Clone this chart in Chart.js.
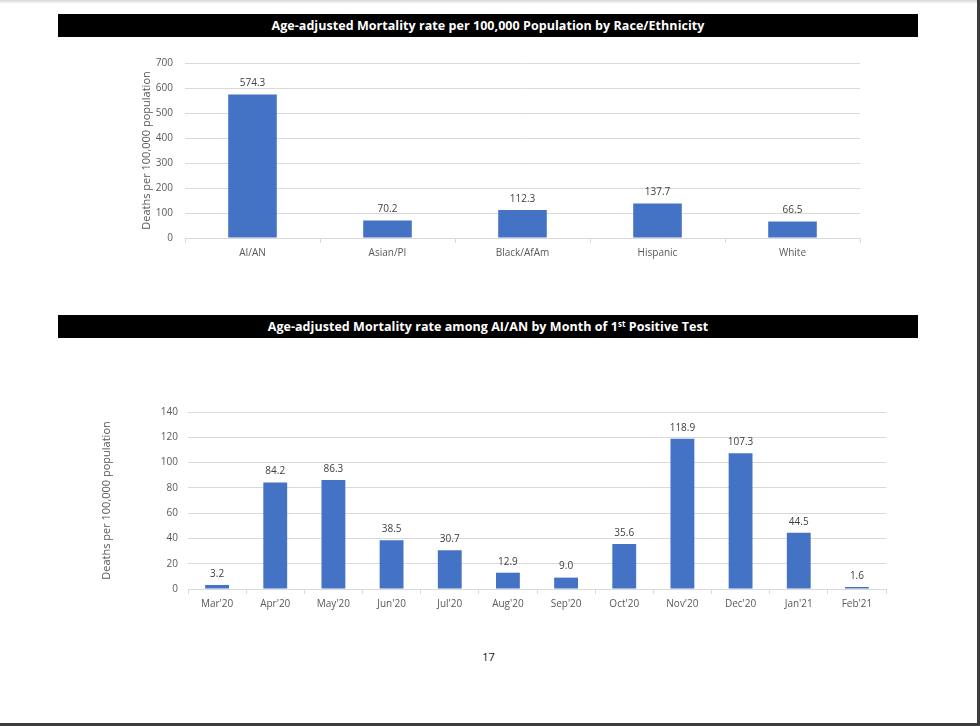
<!DOCTYPE html>
<html>
<head>
<meta charset="utf-8">
<script src="https://cdn.jsdelivr.net/npm/chart.js@4.4.0/dist/chart.umd.min.js"></script>
<style>
  html, body { margin: 0; padding: 0; background: #fff; }
  #page { position: relative; width: 977px; height: 723px; background: #fff;
          border-right: 3px solid #3c3c3c; border-bottom: 3px solid #3c3c3c; overflow: hidden; }
  #page::before { content: ''; position: absolute; left: 0; top: 0; right: 0; height: 4px;
                  background: linear-gradient(#d6d6d6, #fff); }
  .band { position: absolute; left: 58px; width: 860px; height: 23px; background: #000; color: #fff;
          font: bold 12.5px 'Open Sans', sans-serif; letter-spacing: 0.05px; text-align: center; line-height: 23px; }
  .band sup { font-size: 8px; line-height: 0; vertical-align: 4px; }
  .box { position: absolute; }
  #pageno { position: absolute; left: 0; width: 977px; top: 649px; text-align: center;
            font: 11px 'Open Sans', sans-serif; color: #111; }
</style>
</head>
<body>
<div id="page">
  <div class="band" style="top:14px">Age-adjusted Mortality rate per 100,000 Population by Race/Ethnicity</div>
  <div class="box" style="left:130px;top:45px;width:740px;height:225px"><canvas id="raceChart" width="740" height="225"></canvas></div>

  <div class="band" style="top:315px">Age-adjusted Mortality rate among AI/AN by Month of 1<sup>st</sup> Positive Test</div>
  <div class="box" style="left:90px;top:395px;width:820px;height:230px"><canvas id="monthChart" width="820" height="230"></canvas></div>

  <div id="pageno">17</div>
</div>

<script>
// chart data
const raceLabels = ['AI/AN', 'Asian/PI', 'Black/AfAm', 'Hispanic', 'White'];
const raceRates = [574.3, 70.2, 112.3, 137.7, 66.5];

const monthLabels = ["Mar'20", "Apr'20", "May'20", "Jun'20", "Jul'20", "Aug'20",
                     "Sep'20", "Oct'20", "Nov'20", "Dec'20", "Jan'21", "Feb'21"];
const monthRates = [3.2, 84.2, 86.3, 38.5, 30.7, 12.9, 9.0, 35.6, 118.9, 107.3, 44.5, 1.6];

const yTitle = 'Deaths per 100,000 population';

Chart.defaults.font.family = "'Open Sans', sans-serif";
Chart.defaults.font.size = 10;
Chart.defaults.color = '#595959';

// draws the value above each bar (no datalabels plugin available)
const valueLabels = {
  id: 'valueLabels',
  afterDatasetsDraw(chart) {
    const ctx = chart.ctx;
    const values = chart.data.datasets[0].data;
    ctx.save();
    ctx.font = "10px 'Open Sans', sans-serif";
    ctx.fillStyle = '#404040';
    ctx.textAlign = 'center';
    ctx.textBaseline = 'bottom';
    chart.getDatasetMeta(0).data.forEach((bar, i) => {
      ctx.fillText(values[i].toFixed(1), bar.x, bar.y - 6);
    });
    ctx.restore();
  }
};

function makeBarChart(id, labels, values, opts) {
  const ctx = document.getElementById(id).getContext('2d');
  return new Chart(ctx, {
    type: 'bar',
    data: {
      labels: labels,
      datasets: [{
        data: values,
        backgroundColor: '#4472C4',
        borderWidth: 0,
        categoryPercentage: 1,
        barPercentage: opts.barPct
      }]
    },
    options: {
      responsive: false,
      animation: false,
      layout: { padding: { top: opts.top, right: opts.right, bottom: 0, left: 0 } },
      plugins: { legend: { display: false }, tooltip: { enabled: false } },
      scales: {
        x: {
          grid: { drawOnChartArea: false, drawTicks: true, tickLength: 5, color: '#d9d9d9' },
          border: { display: true, color: '#d9d9d9' },
          ticks: { padding: 4, maxRotation: 0, autoSkip: false },
          afterFit: s => { s.height = opts.xHeight; }
        },
        y: {
          min: 0,
          max: opts.max,
          grid: { color: '#d9d9d9', drawTicks: false },
          border: { display: false },
          ticks: { stepSize: opts.step, padding: opts.tickPad },
          title: { display: true, text: yTitle, font: { size: 11 }, padding: { top: 10, bottom: 0 } },
          afterFit: s => { s.width = opts.yWidth; }
        }
      }
    },
    plugins: [valueLabels]
  });
}

makeBarChart('raceChart', raceLabels, raceRates,
  { barPct: 0.36, top: 12, right: 10, xHeight: 32, yWidth: 55, max: 700, step: 100, tickPad: 12 });

makeBarChart('monthChart', monthLabels, monthRates,
  { barPct: 0.41, top: 17, right: 24, xHeight: 36, yWidth: 98, max: 140, step: 20, tickPad: 10 });
</script>
</body>
</html>
